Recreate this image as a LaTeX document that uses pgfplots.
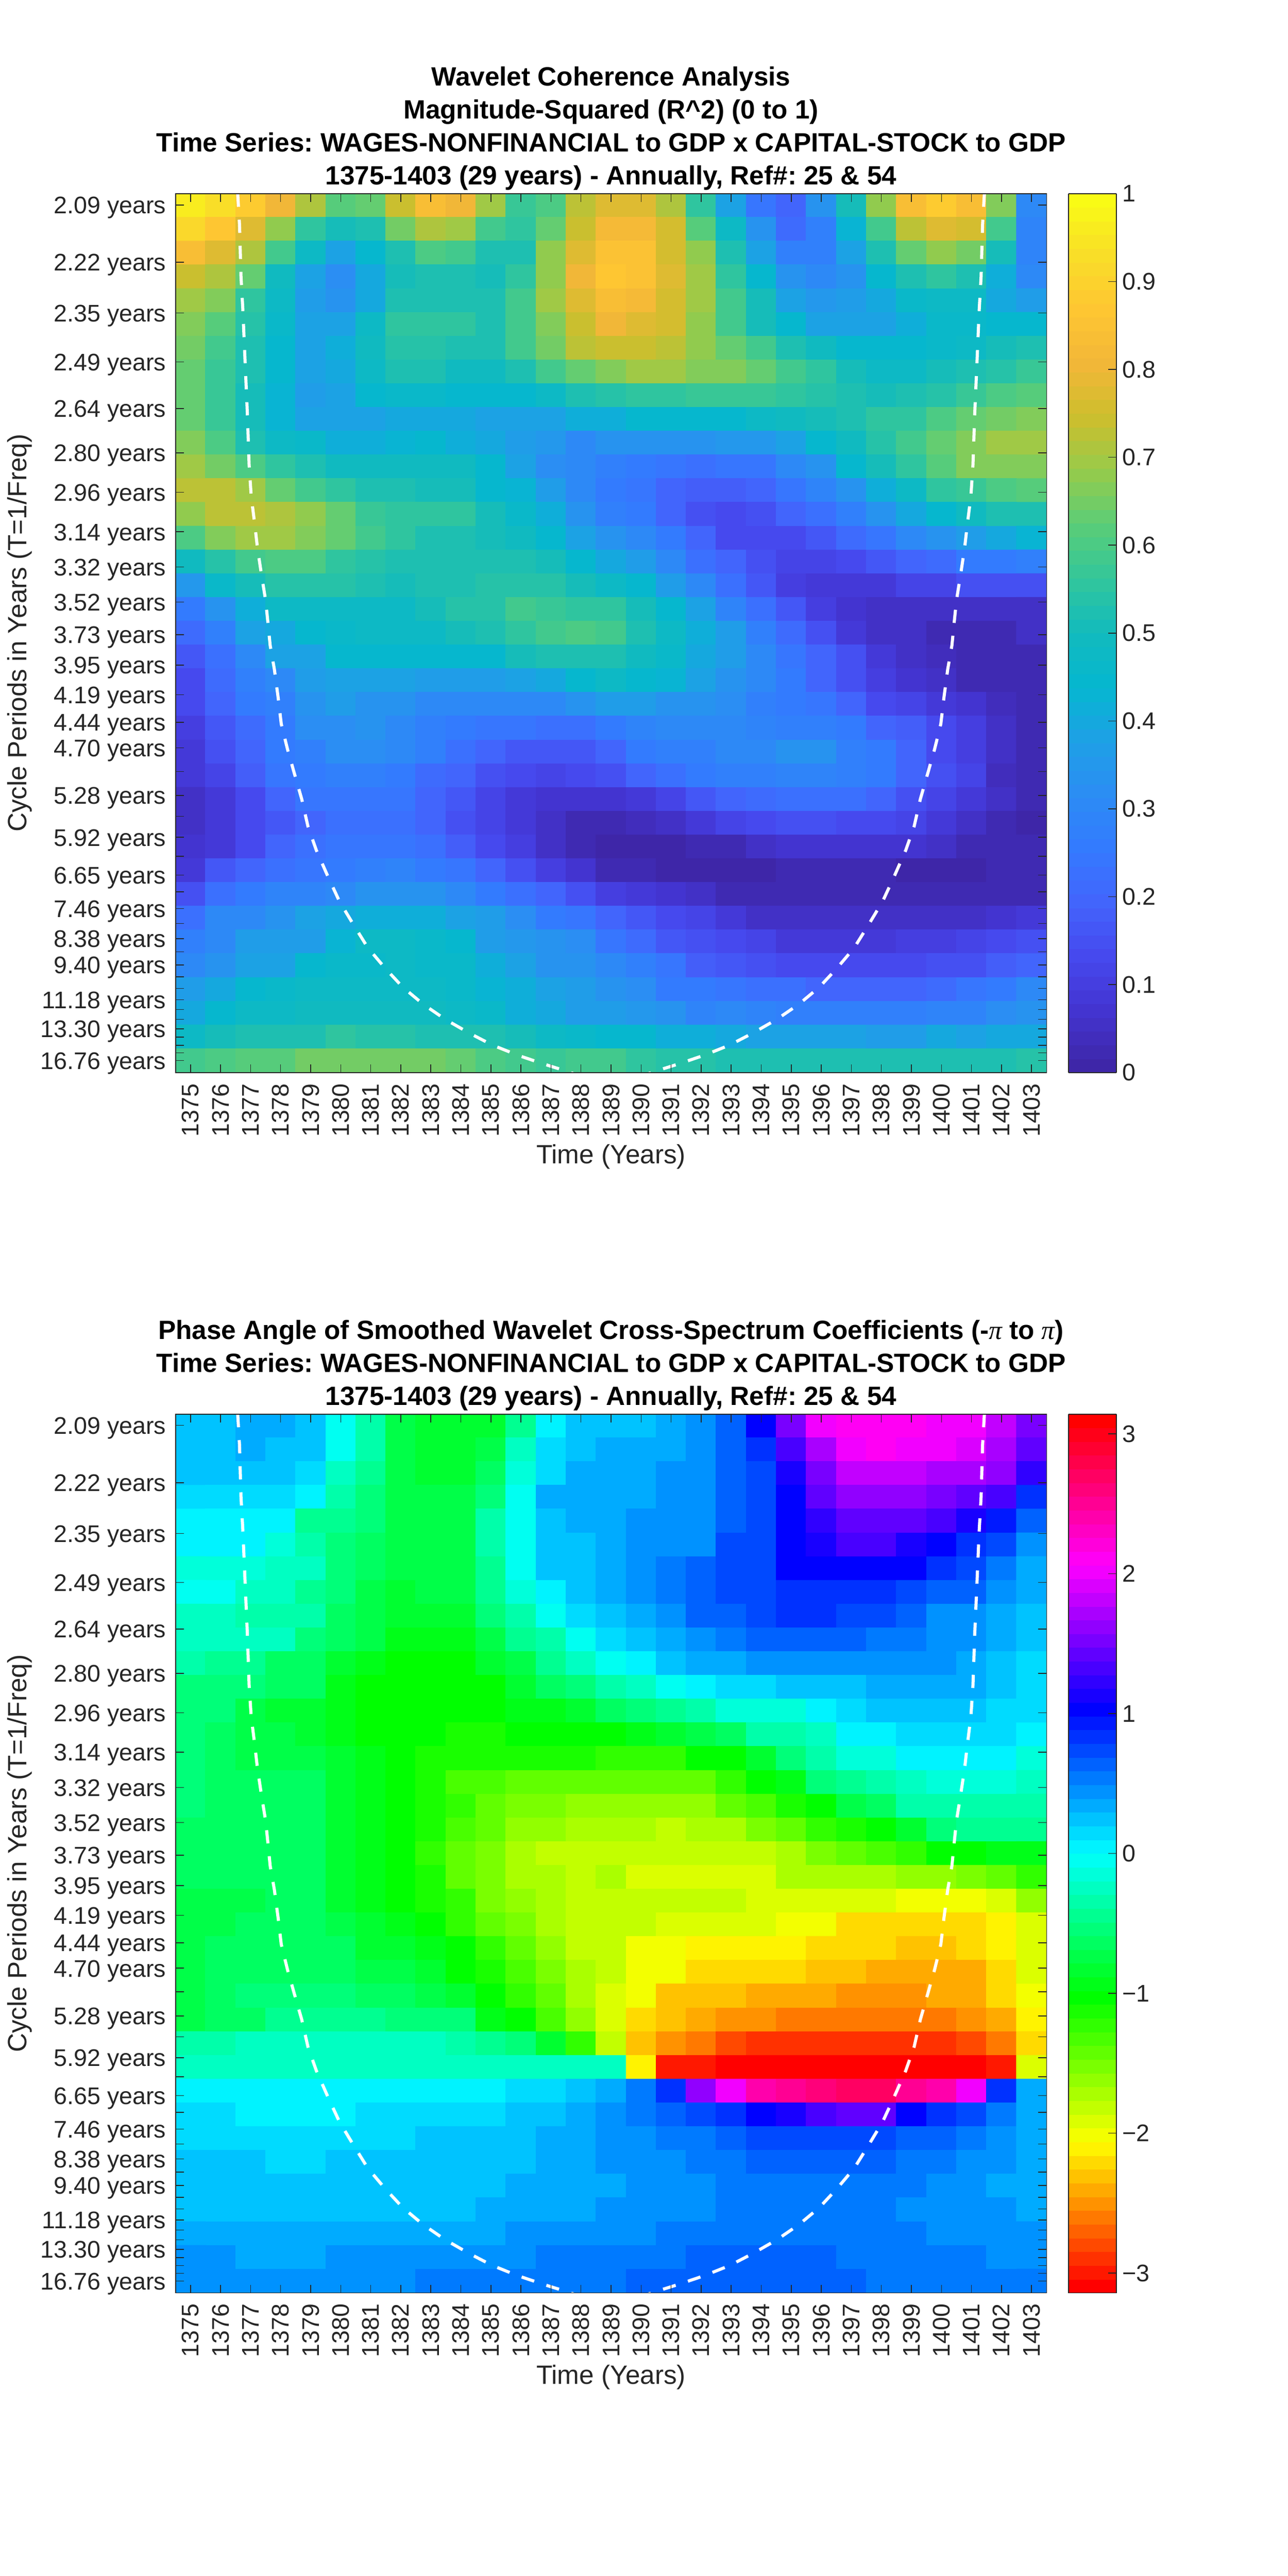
\documentclass[border=0pt]{standalone}
\usepackage{fontspec}
\usepackage{etoolbox}
\usepackage{pgfplots}
\pgfplotsset{compat=1.18}
\setmainfont{Liberation Sans}
\newfontfamily\pifont{Liberation Serif}
\definecolor{matgray}{rgb}{0.15,0.15,0.15}
\frenchspacing

\pgfplotsset{
 colormap={parulabase}{rgb255=(62,38,168) rgb255=(67,52,208) rgb255=(70,72,238) rgb255=(67,100,252) rgb255=(52,122,255) rgb255=(44,140,244) rgb255=(30,160,230) rgb255=(5,183,208) rgb255=(18,186,190) rgb255=(50,198,155) rgb255=(90,205,120) rgb255=(150,203,75) rgb255=(205,190,45) rgb255=(243,183,56) rgb255=(254,198,50) rgb255=(249,222,40) rgb255=(249,251,21)},
 colormap={hsvbase}{rgb255=(255,0,0) rgb255=(255,255,0) rgb255=(0,255,0) rgb255=(0,255,255) rgb255=(0,0,255) rgb255=(255,0,255) rgb255=(255,0,0)},
 colormap={parula64}{samples of colormap=(64 of parulabase)},
 colormap={hsv64}{samples of colormap=(64 of hsvbase)},
}

% Rows top (2.09 years) to bottom (16.76 years); columns 1375 to 1403.
\def\cohrows{%
{.96,.93,.88,.80,.71,.61,.63,.74,.83,.80,.69,.57,.60,.72,.77,.77,.71,.56,.39,.24,.20,.33,.51,.68,.83,.89,.84,.66,.30},
{.91,.86,.77,.68,.56,.50,.52,.65,.71,.69,.59,.55,.64,.74,.82,.82,.75,.62,.48,.34,.21,.28,.43,.59,.73,.77,.75,.59,.29},
{.83,.77,.71,.58,.47,.39,.44,.53,.60,.58,.53,.53,.68,.77,.85,.85,.75,.68,.53,.39,.28,.28,.38,.52,.63,.68,.65,.51,.29},
{.74,.71,.63,.49,.38,.32,.40,.50,.53,.52,.50,.56,.68,.81,.87,.85,.78,.69,.55,.45,.33,.31,.34,.45,.53,.55,.53,.42,.30},
{.70,.66,.56,.47,.37,.34,.40,.52,.53,.53,.53,.59,.70,.77,.84,.82,.76,.69,.58,.50,.38,.35,.36,.40,.46,.47,.47,.40,.36},
{.67,.61,.54,.46,.38,.38,.47,.56,.56,.55,.53,.58,.67,.74,.80,.77,.75,.68,.59,.51,.44,.38,.38,.38,.41,.46,.46,.45,.44},
{.65,.59,.53,.44,.39,.41,.49,.54,.54,.53,.53,.58,.65,.72,.74,.74,.72,.68,.64,.59,.52,.49,.45,.44,.45,.46,.48,.50,.52},
{.64,.57,.53,.44,.39,.40,.47,.52,.52,.49,.49,.52,.58,.63,.67,.69,.69,.67,.67,.63,.59,.56,.50,.48,.48,.50,.53,.54,.57},
{.64,.57,.51,.43,.37,.38,.45,.46,.46,.45,.45,.45,.48,.52,.54,.56,.56,.57,.57,.57,.55,.54,.52,.51,.53,.54,.57,.60,.62},
{.64,.57,.50,.43,.38,.38,.38,.40,.40,.40,.38,.38,.38,.41,.42,.44,.45,.45,.45,.47,.49,.51,.52,.56,.56,.60,.63,.65,.67},
{.66,.60,.53,.48,.46,.42,.41,.43,.44,.41,.40,.37,.35,.31,.33,.33,.33,.33,.35,.35,.38,.44,.49,.54,.58,.63,.67,.70,.70},
{.70,.65,.60,.55,.53,.49,.49,.49,.49,.49,.45,.38,.32,.30,.27,.26,.24,.23,.24,.24,.30,.33,.44,.50,.56,.62,.66,.66,.66},
{.72,.72,.69,.63,.58,.55,.53,.52,.51,.50,.45,.43,.37,.30,.26,.24,.20,.18,.18,.20,.24,.29,.34,.42,.48,.55,.57,.60,.62},
{.68,.72,.72,.71,.68,.63,.57,.56,.55,.55,.50,.46,.41,.34,.28,.26,.19,.15,.14,.15,.19,.23,.28,.34,.40,.45,.49,.52,.53},
{.60,.66,.69,.69,.67,.63,.58,.55,.53,.53,.50,.49,.45,.38,.34,.30,.25,.19,.14,.13,.13,.17,.21,.24,.30,.33,.36,.40,.43},
{.49,.54,.59,.60,.60,.56,.54,.53,.53,.53,.53,.52,.51,.45,.40,.36,.30,.23,.19,.15,.11,.11,.13,.17,.20,.21,.25,.25,.27},
{.35,.46,.50,.54,.54,.54,.52,.50,.53,.53,.54,.54,.54,.51,.48,.45,.37,.31,.22,.16,.10,.09,.08,.08,.11,.12,.15,.15,.15},
{.26,.33,.42,.48,.48,.48,.48,.48,.50,.54,.54,.58,.57,.56,.56,.50,.45,.38,.29,.23,.16,.10,.07,.05,.05,.05,.05,.05,.05},
{.21,.27,.38,.40,.44,.46,.47,.47,.48,.51,.52,.55,.59,.60,.58,.53,.47,.41,.37,.27,.21,.15,.09,.06,.05,.03,.03,.03,.05},
{.17,.23,.31,.38,.39,.44,.45,.45,.44,.44,.45,.50,.52,.52,.53,.49,.46,.40,.36,.31,.24,.19,.15,.09,.06,.04,.02,.02,.02},
{.14,.21,.28,.31,.37,.38,.38,.38,.37,.37,.37,.38,.40,.44,.47,.45,.43,.39,.34,.30,.25,.19,.15,.10,.07,.06,.03,.02,.02},
{.13,.20,.26,.28,.33,.36,.34,.33,.31,.31,.31,.31,.31,.33,.37,.36,.34,.34,.32,.28,.26,.24,.20,.13,.11,.09,.07,.04,.03},
{.10,.17,.21,.26,.32,.32,.33,.30,.27,.26,.24,.24,.23,.22,.26,.29,.30,.31,.30,.29,.27,.27,.25,.20,.18,.14,.10,.05,.03},
{.09,.15,.19,.25,.27,.32,.32,.31,.28,.22,.19,.17,.17,.16,.20,.26,.27,.27,.30,.30,.33,.33,.28,.26,.20,.14,.10,.06,.03},
{.09,.12,.18,.24,.26,.27,.27,.26,.21,.20,.15,.13,.12,.13,.15,.20,.23,.25,.28,.28,.29,.29,.28,.26,.20,.15,.12,.04,.03},
{.05,.09,.13,.20,.24,.24,.24,.24,.20,.16,.12,.09,.07,.07,.07,.09,.12,.17,.20,.21,.23,.23,.22,.20,.15,.12,.08,.05,.02},
{.05,.09,.13,.17,.20,.23,.23,.23,.19,.15,.11,.08,.05,.03,.03,.04,.05,.09,.12,.14,.15,.15,.14,.13,.12,.08,.06,.03,.01},
{.07,.09,.13,.19,.22,.24,.24,.24,.22,.18,.14,.10,.05,.02,.01,.01,.01,.02,.03,.05,.07,.07,.07,.07,.07,.05,.03,.02,.02},
{.09,.17,.20,.23,.24,.26,.28,.29,.26,.24,.20,.15,.10,.07,.03,.02,.01,.01,.01,.01,.02,.02,.02,.02,.01,.01,.01,.02,.02},
{.15,.22,.26,.29,.29,.30,.33,.33,.33,.30,.26,.23,.20,.15,.10,.08,.07,.05,.03,.02,.02,.02,.02,.02,.02,.02,.02,.03,.03},
{.22,.30,.31,.34,.38,.40,.41,.41,.41,.39,.36,.32,.26,.24,.20,.17,.13,.12,.09,.06,.05,.05,.05,.06,.06,.06,.05,.07,.09},
{.28,.31,.36,.37,.37,.43,.47,.47,.46,.45,.37,.35,.33,.32,.24,.21,.17,.15,.13,.11,.09,.09,.09,.09,.10,.10,.11,.13,.15},
{.30,.33,.38,.38,.45,.46,.46,.47,.46,.46,.41,.38,.34,.33,.31,.28,.24,.18,.17,.15,.14,.14,.14,.14,.14,.15,.15,.18,.19},
{.36,.40,.45,.46,.47,.47,.47,.47,.47,.46,.43,.41,.39,.36,.33,.32,.26,.25,.24,.23,.22,.19,.19,.19,.19,.21,.24,.25,.30},
{.40,.44,.47,.48,.49,.49,.49,.49,.49,.48,.46,.42,.40,.37,.37,.35,.33,.29,.30,.29,.28,.27,.27,.27,.28,.29,.29,.32,.33},
{.47,.50,.52,.53,.53,.55,.54,.54,.53,.53,.52,.50,.47,.46,.45,.45,.42,.41,.40,.39,.39,.38,.38,.37,.37,.40,.39,.40,.40},
{.59,.60,.62,.62,.65,.65,.65,.65,.65,.64,.60,.58,.57,.58,.58,.56,.54,.54,.53,.52,.52,.52,.52,.52,.52,.53,.53,.53,.54}}

\def\phaserows{%
{.25,.25,.33,.33,.25,-.08,-.33,-.77,-.82,-.82,-.82,-.4,0,.2,.22,.22,.35,.4,.62,1.0,1.55,2.0,2.09,2.09,2.09,2.0,2.0,1.85,1.5},
{.25,.25,.33,.25,.25,-.08,-.33,-.77,-.8,-.82,-.7,-.2,.1,.2,.35,.35,.35,.4,.62,.85,1.35,1.75,2.0,2.09,2.0,2.0,1.9,1.75,1.4},
{.28,.28,.25,.25,.15,-.2,-.4,-.75,-.8,-.8,-.6,-.12,.1,.35,.35,.35,.4,.4,.62,.72,1.1,1.5,1.85,1.85,1.85,1.75,1.75,1.65,1.2},
{.17,.17,.17,.17,0,-.35,-.55,-.72,-.75,-.72,-.5,-.05,.3,.35,.35,.35,.4,.47,.62,.72,1.05,1.4,1.65,1.65,1.65,1.5,1.4,1.3,.85},
{0,0,0,0,-.4,-.4,-.55,-.7,-.72,-.72,-.35,-.05,.2,.35,.35,.47,.47,.47,.62,.72,1.05,1.2,1.45,1.45,1.45,1.35,1.1,.95,.62},
{0,0,0,-.1,-.3,-.55,-.65,-.72,-.72,-.72,-.35,-.05,.2,.25,.35,.47,.47,.47,.7,.72,1.0,1.15,1.3,1.3,1.15,1.05,.85,.72,.47},
{-.1,-.1,-.1,-.2,-.25,-.55,-.65,-.72,-.72,-.72,-.42,-.05,.2,.25,.35,.45,.5,.6,.7,.75,1.0,1.05,1.05,1.05,1.0,.87,.72,.52,.35},
{-.08,-.08,-.2,-.2,-.4,-.55,-.72,-.8,-.75,-.75,-.42,-.15,0,.25,.35,.45,.5,.6,.7,.75,.85,.85,.85,.85,.72,.68,.6,.4,.35},
{-.25,-.25,-.3,-.3,-.38,-.62,-.72,-.85,-.85,-.85,-.5,-.3,-.08,.13,.23,.35,.42,.65,.65,.72,.82,.82,.72,.72,.62,.47,.47,.33,.23},
{-.25,-.25,-.25,-.25,-.55,-.62,-.75,-.9,-.9,-.9,-.7,-.48,-.3,-.05,.1,.23,.35,.42,.5,.62,.62,.62,.62,.52,.52,.4,.4,.33,.23},
{-.35,-.45,-.45,-.6,-.68,-.8,-.9,-1.0,-1.03,-1.0,-.85,-.7,-.48,-.25,-.08,0,.23,.35,.35,.42,.42,.42,.42,.42,.42,.42,.33,.25,.1},
{-.5,-.5,-.55,-.62,-.68,-.9,-1.0,-1.0,-1.05,-1.0,-1.0,-.8,-.6,-.5,-.35,-.25,-.08,0,.1,.1,.23,.23,.23,.33,.33,.33,.33,.23,.1},
{-.5,-.55,-.7,-.8,-.85,-.95,-1.0,-1.03,-1.03,-1.05,-1.03,-.97,-.9,-.82,-.65,-.55,-.42,-.3,-.17,-.1,-.1,0,.18,.2,.2,.2,.2,.1,.1},
{-.5,-.6,-.72,-.75,-.8,-.9,-1.0,-1.03,-1.03,-1.13,-1.13,-1.0,-1.0,-1.0,-1.05,-.95,-.85,-.7,-.65,-.35,-.3,-.25,0,0,.1,.1,.1,.1,0},
{-.55,-.6,-.72,-.72,-.72,-.85,-.95,-1.05,-1.15,-1.15,-1.13,-1.13,-1.13,-1.13,-1.25,-1.25,-1.2,-1.05,-1.05,-.85,-.55,-.35,-.17,-.1,0,0,0,0,-.1},
{-.55,-.6,-.6,-.65,-.65,-.8,-.9,-1.05,-1.15,-1.3,-1.3,-1.4,-1.4,-1.4,-1.42,-1.4,-1.4,-1.4,-1.25,-1.05,-.9,-.55,-.42,-.3,-.2,-.1,-.1,-.1,-.22},
{-.55,-.6,-.6,-.6,-.65,-.8,-.9,-1.05,-1.15,-1.25,-1.4,-1.5,-1.5,-1.63,-1.6,-1.6,-1.6,-1.6,-1.45,-1.3,-1.15,-1.05,-.75,-.6,-.38,-.3,-.3,-.3,-.35},
{-.6,-.6,-.6,-.6,-.65,-.8,-.9,-1.05,-1.15,-1.3,-1.42,-1.6,-1.6,-1.72,-1.7,-1.7,-1.8,-1.7,-1.7,-1.55,-1.45,-1.25,-1.15,-1.05,-.8,-.55,-.45,-.45,-.45},
{-.62,-.62,-.62,-.62,-.62,-.8,-.9,-1.05,-1.25,-1.42,-1.55,-1.7,-1.8,-1.82,-1.8,-1.8,-1.82,-1.8,-1.8,-1.8,-1.68,-1.55,-1.42,-1.35,-1.2,-1.02,-1.02,-.95,-.9},
{-.68,-.68,-.68,-.68,-.68,-.82,-.92,-1.03,-1.1,-1.42,-1.55,-1.7,-1.75,-1.82,-1.75,-1.87,-1.87,-1.87,-1.87,-1.87,-1.75,-1.75,-1.75,-1.75,-1.6,-1.6,-1.5,-1.4,-1.2},
{-.72,-.72,-.72,-.68,-.68,-.82,-.92,-1.03,-1.1,-1.25,-1.48,-1.6,-1.75,-1.85,-1.85,-1.85,-1.85,-1.85,-1.85,-1.95,-1.95,-1.95,-1.95,-1.95,-2.05,-2.05,-1.98,-1.87,-1.6},
{-.72,-.72,-.62,-.62,-.68,-.78,-.88,-.95,-1.05,-1.2,-1.4,-1.5,-1.75,-1.8,-1.85,-1.85,-1.95,-1.95,-1.95,-1.95,-2.05,-2.05,-2.18,-2.18,-2.25,-2.25,-2.2,-2.1,-1.9},
{-.75,-.62,-.6,-.6,-.62,-.68,-.8,-.85,-.9,-1.05,-1.25,-1.45,-1.62,-1.8,-1.85,-1.98,-1.98,-2.1,-2.1,-2.15,-2.15,-2.25,-2.25,-2.25,-2.35,-2.35,-2.25,-2.15,-1.9},
{-.75,-.62,-.6,-.6,-.62,-.65,-.72,-.75,-.85,-1.05,-1.15,-1.35,-1.55,-1.75,-1.85,-1.98,-2.05,-2.18,-2.18,-2.25,-2.25,-2.35,-2.35,-2.45,-2.45,-2.37,-2.37,-2.25,-1.95},
{-.75,-.62,-.5,-.5,-.5,-.5,-.65,-.68,-.72,-.8,-1.05,-1.2,-1.4,-1.75,-1.9,-2.05,-2.3,-2.3,-2.35,-2.45,-2.45,-2.45,-2.55,-2.55,-2.55,-2.45,-2.45,-2.25,-2.05},
{-.72,-.6,-.6,-.42,-.42,-.42,-.42,-.55,-.5,-.5,-.9,-1.05,-1.3,-1.6,-1.9,-2.25,-2.35,-2.45,-2.55,-2.55,-2.65,-2.65,-2.65,-2.65,-2.65,-2.65,-2.55,-2.42,-2.15},
{-.3,-.3,-.22,-.22,-.22,-.22,-.22,-.22,-.22,-.3,-.4,-.5,-.85,-1.2,-1.85,-2.33,-2.55,-2.65,-2.75,-2.85,-2.85,-2.85,-2.85,-2.85,-2.85,-2.85,-2.75,-2.65,-2.25},
{-.2,-.2,-.2,-.2,-.2,-.2,-.2,-.2,-.2,-.2,-.2,-.2,-.2,-.2,-.2,-2.15,-3.0,-3.0,-3.1,-3.12,-3.12,-3.12,-3.12,-3.12,-3.12,-3.12,-3.05,-2.95,-1.95},
{0,0,0,0,0,0,0,0,0,0,0,.1,.1,.2,.35,.52,.85,1.6,2.05,2.45,2.55,2.6,2.7,2.7,2.55,2.45,2.0,.85,.35},
{.18,.18,0,0,0,0,.12,.12,.12,.12,.12,.2,.2,.35,.42,.52,.65,.75,.85,1.05,1.15,1.3,1.45,1.4,1.05,.88,.72,.52,.35},
{.15,.15,.1,.1,.1,.1,.15,.15,.2,.2,.2,.2,.35,.35,.42,.42,.55,.55,.65,.75,.75,.75,.75,.75,.65,.65,.55,.42,.35},
{.23,.23,.23,.1,.1,.23,.23,.23,.23,.23,.23,.23,.35,.35,.42,.42,.42,.52,.52,.65,.65,.65,.65,.65,.52,.52,.42,.42,.35},
{.25,.25,.25,.25,.25,.25,.25,.25,.25,.25,.25,.33,.33,.33,.35,.42,.42,.42,.52,.52,.52,.52,.52,.52,.52,.42,.42,.35,.35},
{.25,.25,.25,.25,.25,.25,.25,.25,.25,.25,.33,.33,.33,.33,.42,.42,.42,.42,.52,.52,.52,.52,.52,.52,.42,.42,.42,.42,.35},
{.35,.35,.35,.35,.35,.35,.35,.35,.35,.35,.35,.42,.42,.42,.42,.42,.52,.52,.52,.52,.52,.52,.52,.52,.52,.42,.42,.42,.42},
{.42,.42,.35,.35,.35,.42,.42,.42,.42,.42,.42,.42,.52,.52,.52,.52,.52,.6,.6,.6,.6,.6,.52,.52,.52,.52,.52,.42,.42},
{.42,.42,.42,.42,.42,.42,.42,.42,.52,.52,.52,.52,.52,.52,.52,.6,.6,.6,.6,.6,.6,.6,.6,.52,.52,.52,.52,.52,.52}}

% Turn a list of rows into mesh coordinates: x = year, y = frequency, meta = value.
\newcommand\buildgrid[2]{%
 \gdef#1{}%
 \foreach \onerow [count=\rowi from 0] in #2 {%
  \pgfmathsetmacro\rowy{0.48402-(\rowi+0.5)*0.011627}%
  \foreach \val [count=\yr from 1375] in \onerow {%
   \xappto#1{(\yr,\rowy) [\val] }%
  }%
 }%
}
\buildgrid{\cohcoords}{\cohrows}
\buildgrid{\phasecoords}{\phaserows}

\pgfplotsset{
 waveaxis/.style={
  scale only axis, width=507.36pt, height=511.92pt, anchor=south west,
  xmin=1374.5, xmax=1403.5, ymin=0.0538, ymax=0.48402,
  enlargelimits=false, axis on top,
  tick align=inside, major tick length=4.8pt,
  axis line style={matgray,line width=0.5pt},
  tick style={matgray,line width=0.45pt},
  xtick={1375,1376,1377,1378,1379,1380,1381,1382,1383,1384,1385,1386,1387,1388,1389,1390,1391,1392,1393,1394,1395,1396,1397,1398,1399,1400,1401,1402,1403},
  xticklabels={1375,1376,1377,1378,1379,1380,1381,1382,1383,1384,1385,1386,1387,1388,1389,1390,1391,1392,1393,1394,1395,1396,1397,1398,1399,1400,1401,1402,1403},
  ytick={0.05967,0.06337,0.06713,0.07113,0.07519,0.07984,0.08458,0.08945,0.09494,0.10059,0.10638,0.11290,0.11933,0.12673,0.13405,0.14225,0.15038,0.15967,0.16892,0.17922,0.18939,0.20117,0.21277,0.22523,0.23866,0.25316,0.26810,0.28409,0.30120,0.31847,0.33784,0.35714,0.37879,0.40161,0.42553,0.45045,0.47847},
  yticklabels={16.76 years,,,,13.30 years,,,11.18 years,,,9.40 years,,8.38 years,,7.46 years,,6.65 years,,5.92 years,,5.28 years,,4.70 years,4.44 years,4.19 years,3.95 years,3.73 years,3.52 years,3.32 years,3.14 years,2.96 years,2.80 years,2.64 years,2.49 years,2.35 years,2.22 years,2.09 years},
  tick label style={font=\fontsize{14}{16}\selectfont,text=matgray},
  xticklabel style={rotate=90,anchor=east},
  yticklabel style={yshift=-1.6pt},
  xticklabel shift=2.9pt, yticklabel shift=2pt,
  label style={font=\fontsize{15.4}{18}\selectfont,text=matgray},
  xlabel={Time (Years)}, ylabel={Cycle Periods in Years (T=1/Freq)},
  xlabel style={at={(axis description cs:0.5,-0.096)},anchor=center},
  ylabel style={at={(axis description cs:-0.1788,0.5)},anchor=center},
  title style={at={(axis description cs:0.5,1)},anchor=south,align=center,yshift=-7.5pt,
   font=\fontsize{15.4}{19.2}\selectfont\bfseries,text=black},
  colorbar, colorbar sampled, colormap access=piecewise constant,
  colorbar shift/.style={xshift=-1.68pt},
 },
 cbstyle/.style={
  samples=65, width=27.84pt,
  tick align=inside, major tick length=4.8pt, ytick pos=right,
  axis line style={matgray,line width=0.5pt},
  tick style={matgray,line width=0.45pt},
  tick label style={font=\fontsize{14}{16}\selectfont,text=matgray},
 },
 coi/.style={white,line width=1.8pt,dash pattern=on 7.7pt off 7.5pt,no markers},
}

\begin{document}
\begin{tikzpicture}
\path[use as bounding box] (0,0) rectangle (750pt,1500.48pt);

\begin{axis}[waveaxis, at={(102.24pt,875.76pt)},
  colormap name=parula64, point meta min=0, point meta max=1,
  colorbar style={cbstyle,ytick={0,0.1,0.2,0.3,0.4,0.5,0.6,0.7,0.8,0.9,1},
   yticklabels={0,0.1,0.2,0.3,0.4,0.5,0.6,0.7,0.8,0.9,1}},
  title={Wavelet Coherence Analysis\\Magnitude-Squared (R\textasciicircum 2) (0 to 1)\\Time Series: WAGES-NONFINANCIAL to GDP x CAPITAL-STOCK to GDP\\1375-1403 (29 years) - Annually, Ref\#: 25 \& 54}]
\edef\doplot{\noexpand\addplot[matrix plot*,point meta=explicit,mesh/cols=29] coordinates {\cohcoords};}
\doplot
\addplot[coi] coordinates {(1376.57,.48402)(1376.63,.46889)(1376.68,.44328)(1376.74,.42775)(1376.81,.40375)(1376.89,.37692)(1376.95,.35131)(1377.02,.33578)(1377.13,.32307)(1377.23,.31036)(1377.36,.29766)(1377.5,.28485)(1377.58,.27345)(1377.65,.26297)(1377.79,.25126)(1377.92,.23695)(1378.02,.22444)(1378.23,.21193)(1378.44,.20104)(1378.7,.18773)(1378.91,.17421)(1379.19,.16252)(1379.59,.14921)(1379.96,.13750)(1380.44,.12580)(1380.9,.11492)(1381.48,.10483)(1382.06,.09565)(1382.74,.08729)(1383.48,.07982)(1384.27,.07316)(1385.05,.06722)(1385.89,.06227)(1386.74,.05804)(1387.57,.05420)(1388.0,.052)};
\addplot[coi] coordinates {(1401.43,.48402)(1401.37,.46889)(1401.32,.44328)(1401.26,.42775)(1401.19,.40375)(1401.11,.37692)(1401.05,.35131)(1400.98,.33578)(1400.87,.32307)(1400.77,.31036)(1400.64,.29766)(1400.5,.28485)(1400.42,.27345)(1400.35,.26297)(1400.21,.25126)(1400.08,.23695)(1399.98,.22444)(1399.77,.21193)(1399.56,.20104)(1399.3,.18773)(1399.09,.17421)(1398.81,.16252)(1398.41,.14921)(1398.04,.13750)(1397.56,.12580)(1397.1,.11492)(1396.52,.10483)(1395.94,.09565)(1395.26,.08729)(1394.52,.07982)(1393.73,.07316)(1392.95,.06722)(1392.11,.06227)(1391.26,.05804)(1390.43,.05420)(1390.0,.052)};
\end{axis}

\begin{axis}[waveaxis, at={(102.24pt,164.88pt)},
  colormap name=hsv64, point meta min=-3.14159, point meta max=3.14159,
  colorbar style={cbstyle,ytick={-3,-2,-1,0,1,2,3},
   yticklabels={−3,−2,−1,0,1,2,3}},
  title={Phase Angle of Smoothed Wavelet Cross-Spectrum Coefficients (-{\pifont\mdseries\itshape π} to {\pifont\mdseries\itshape π})\\Time Series: WAGES-NONFINANCIAL to GDP x CAPITAL-STOCK to GDP\\1375-1403 (29 years) - Annually, Ref\#: 25 \& 54}]
\edef\doplot{\noexpand\addplot[matrix plot*,point meta=explicit,mesh/cols=29] coordinates {\phasecoords};}
\doplot
\addplot[coi] coordinates {(1376.57,.48402)(1376.63,.46889)(1376.68,.44328)(1376.74,.42775)(1376.81,.40375)(1376.89,.37692)(1376.95,.35131)(1377.02,.33578)(1377.13,.32307)(1377.23,.31036)(1377.36,.29766)(1377.5,.28485)(1377.58,.27345)(1377.65,.26297)(1377.79,.25126)(1377.92,.23695)(1378.02,.22444)(1378.23,.21193)(1378.44,.20104)(1378.7,.18773)(1378.91,.17421)(1379.19,.16252)(1379.59,.14921)(1379.96,.13750)(1380.44,.12580)(1380.9,.11492)(1381.48,.10483)(1382.06,.09565)(1382.74,.08729)(1383.48,.07982)(1384.27,.07316)(1385.05,.06722)(1385.89,.06227)(1386.74,.05804)(1387.57,.05420)(1388.0,.052)};
\addplot[coi] coordinates {(1401.43,.48402)(1401.37,.46889)(1401.32,.44328)(1401.26,.42775)(1401.19,.40375)(1401.11,.37692)(1401.05,.35131)(1400.98,.33578)(1400.87,.32307)(1400.77,.31036)(1400.64,.29766)(1400.5,.28485)(1400.42,.27345)(1400.35,.26297)(1400.21,.25126)(1400.08,.23695)(1399.98,.22444)(1399.77,.21193)(1399.56,.20104)(1399.3,.18773)(1399.09,.17421)(1398.81,.16252)(1398.41,.14921)(1398.04,.13750)(1397.56,.12580)(1397.1,.11492)(1396.52,.10483)(1395.94,.09565)(1395.26,.08729)(1394.52,.07982)(1393.73,.07316)(1392.95,.06722)(1392.11,.06227)(1391.26,.05804)(1390.43,.05420)(1390.0,.052)};
\end{axis}
\end{tikzpicture}
\end{document}
